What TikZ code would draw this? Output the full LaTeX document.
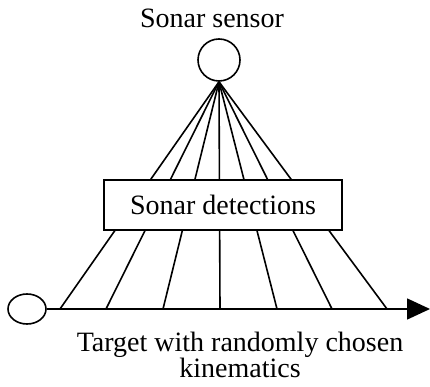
\documentclass[tikz,border=0pt]{standalone}
\usepackage{fontspec}
\setmainfont{Liberation Serif}
\usetikzlibrary{arrows.meta,shapes.geometric}
\begin{document}
\begin{tikzpicture}[x=1pt,y=1pt,line width=1.6pt,
    lbl/.style={font=\fontsize{28}{25}\selectfont, inner sep=0pt},
    sensorcirc/.style={draw, circle, minimum size=42pt, inner sep=0pt},
    targetcirc/.style={draw, ellipse, minimum width=38pt, minimum height=30pt, inner sep=0pt},
    detbox/.style={draw, fill=white, minimum width=238pt, minimum height=50pt, inner sep=0pt}]
    \useasboundingbox (0,0) rectangle (430,387);
    \def\Ty{78}   % height of the target track
    \def\Cx{220}  % x of the sensor

    % Sensor and target
    \node[sensorcirc] (sensor) at (219,327) {};
    \node[lbl] (sensorlbl) at (212,369) {Sonar sensor};
    \node[targetcirc] (target) at (27,\Ty) {};
    \coordinate (trackend) at (430,\Ty);

    % Track with arrow
    \draw[-{Triangle[length=23pt,width=21pt]}] (target.east) -- (trackend);

    % Detection rays from sensor to track
    \foreach \dx [count=\i] in {-160,-114,-57,0,57,112,167}{
        \coordinate (p\i) at (\Cx+\dx,\Ty);
        \draw (sensor.south) -- (p\i);
    }

    % Detections box covers the rays
    \node[detbox, lbl, minimum width=238pt, minimum height=50pt] (det) at (223,182) {Sonar detections};

    % Target label
    \node[lbl, align=center] (targetlbl) at (240,32) {Target with randomly chosen\\kinematics};
\end{tikzpicture}
\end{document}
